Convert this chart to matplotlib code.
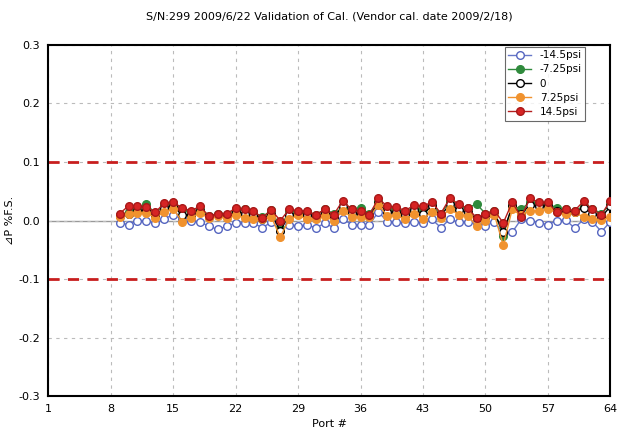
import numpy as np
import matplotlib
matplotlib.use("Agg")
from matplotlib import pyplot as plt

plt.rcParams['font.family'] = ['Liberation Sans Narrow', 'DejaVu Sans', 'Noto Sans CJK JP']

# port numbers with data
ports = list(range(9, 65))

m14 = [-0.004, -0.007, 0.000, 0.000, -0.005, 0.003, 0.010, 0.003, 0.000, -0.002,
       -0.010, -0.015, -0.010, -0.004, -0.004, -0.005, -0.012, -0.003, -0.016, -0.007,
       -0.009, -0.008, -0.012, -0.005, -0.012, 0.003, -0.007, -0.007, -0.007, 0.015,
       -0.002, -0.002, -0.005, -0.002, -0.004, 0.002, -0.012, 0.002, -0.003, -0.002,
       -0.004, -0.009, -0.002, -0.022, -0.020, 0.002, 0.000, -0.004, -0.007, 0.000,
       0.001, -0.013, 0.002, -0.002, -0.019, -0.002]
m7 = [0.010, 0.014, 0.022, 0.028, 0.012, 0.027, 0.030, 0.018, 0.015, 0.020,
      0.008, 0.011, 0.010, 0.019, 0.019, 0.014, 0.006, 0.018, -0.012, 0.016,
      0.015, 0.015, 0.010, 0.019, 0.012, 0.022, 0.020, 0.021, 0.012, 0.033,
      0.020, 0.020, 0.015, 0.022, 0.019, 0.028, 0.012, 0.033, 0.024, 0.022,
      0.028, 0.012, 0.016, -0.026, 0.026, 0.019, 0.032, 0.028, 0.028, 0.022,
      0.019, 0.016, 0.025, 0.020, 0.012, 0.028]
zero = [0.008, 0.012, 0.016, 0.018, 0.008, 0.022, 0.024, 0.010, 0.010, 0.017,
        0.006, 0.009, 0.007, 0.015, 0.012, 0.010, 0.003, 0.012, -0.018, 0.010,
        0.012, 0.010, 0.006, 0.013, 0.006, 0.024, 0.013, 0.012, 0.008, 0.030,
        0.014, 0.015, 0.009, 0.018, 0.012, 0.024, 0.008, 0.028, 0.018, 0.014,
        0.004, 0.006, 0.013, -0.020, 0.024, 0.012, 0.026, 0.024, 0.024, 0.016,
        0.015, 0.014, 0.022, 0.012, 0.006, 0.024]
p7 = [0.006, 0.012, 0.013, 0.013, 0.005, 0.015, 0.020, -0.002, 0.005, 0.013,
      0.004, 0.007, 0.004, 0.009, 0.005, 0.003, 0.002, 0.006, -0.028, 0.002,
      0.009, 0.002, 0.002, 0.007, 0.000, 0.017, 0.006, 0.006, 0.006, 0.027,
      0.008, 0.009, 0.002, 0.011, 0.003, 0.015, 0.005, 0.020, 0.010, 0.008,
      -0.009, 0.000, 0.010, -0.042, 0.019, 0.009, 0.017, 0.017, 0.019, 0.014,
      0.011, 0.014, 0.006, 0.002, 0.001, 0.006]
p14 = [0.012, 0.025, 0.025, 0.023, 0.014, 0.030, 0.032, 0.021, 0.017, 0.024,
       0.008, 0.012, 0.012, 0.021, 0.019, 0.016, 0.005, 0.018, 0.000, 0.019,
       0.017, 0.016, 0.010, 0.019, 0.010, 0.034, 0.019, 0.016, 0.010, 0.038,
       0.024, 0.023, 0.017, 0.026, 0.024, 0.032, 0.012, 0.038, 0.028, 0.021,
       0.005, 0.012, 0.017, -0.004, 0.031, 0.006, 0.038, 0.031, 0.031, 0.014,
       0.019, 0.017, 0.033, 0.019, 0.010, 0.034]

labels = ["-14.5psi", "-7.25psi", "0", "7.25psi", "14.5psi"]
xticks = [1, 8, 15, 22, 29, 36, 43, 50, 57, 64]
yticks = [-0.3, -0.2, -0.1, 0.0, 0.1, 0.2, 0.3]
limit = 0.1

fig = plt.figure(figsize=(6.19, 4.32), dpi=100)
ax = fig.add_axes([0.078, 0.083, 0.908, 0.813])

styles = [
    dict(color="#6677c8", mfc="white", mec="#5565c0"),
    dict(color="#2f8a3c", mfc="#2f8a3c", mec="#2f8a3c"),
    dict(color="black", mfc="white", mec="black"),
    dict(color="#f0922e", mfc="#f0922e", mec="#f0922e"),
    dict(color="#b41e1e", mfc="#d62424", mec="#a81818"),
]
for vals, lab, st in zip([m14, m7, zero, p7, p14], labels, styles):
    ax.plot(ports, vals, "-o", lw=1.0, ms=5.5, mew=1.0, label=lab, zorder=3, **st)

ax.axhline(limit, color="#c81e1e", ls=(0, (4, 3)), lw=2.0, zorder=2)
ax.axhline(-limit, color="#c81e1e", ls=(0, (4, 3)), lw=2.0, zorder=2)
ax.axhline(0, color="#999999", lw=1.0, zorder=1)

ax.set_xlim(1, 64)
ax.set_ylim(-0.3, 0.3)
ax.set_xticks(xticks)
ax.set_yticks(yticks)
ax.set_yticklabels(["%.1f" % v for v in yticks])
ax.grid(True, color="#bbbbbb", ls=(0, (3, 4)), lw=0.8)
ax.tick_params(length=0, labelsize=8, pad=6)
for s in ax.spines.values():
    s.set_linewidth(1.5)

ax.set_title("S/N:299 2009/6/22 Validation of Cal. (Vendor cal. date 2009/2/18)", fontsize=8, pad=18)
ax.set_xlabel("Port #", fontsize=8, labelpad=3)
ax.set_ylabel("⊿P %F.S.", fontsize=8, labelpad=2,
              family=['Liberation Sans Narrow', 'DejaVu Sans', 'Noto Sans CJK JP'])

leg = ax.legend(loc="upper right", bbox_to_anchor=(0.965, 1.01), fontsize=7.5,
                frameon=True, fancybox=False, edgecolor="#444444",
                handlelength=2.2, borderpad=0.35, labelspacing=0.4)
leg.get_frame().set_linewidth(0.8)

plt.savefig("out.png", dpi=100)
